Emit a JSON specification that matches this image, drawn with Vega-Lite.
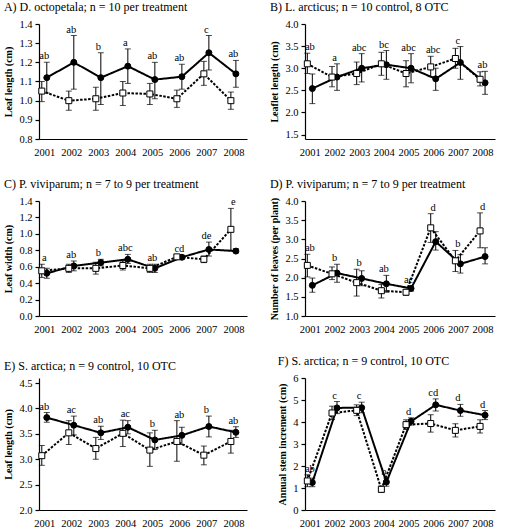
{
  "$schema": "https://vega.github.io/schema/vega-lite/v6.json",
  "padding": {"left": 3, "top": 1, "right": 3, "bottom": 0},
  "background": "white",
  "data": {"values": [
    {"p":"A","year":"2001","trt":"Control","m":1.12,"lo":1.04,"hi":1.20,"lab":"ab"},
    {"p":"A","year":"2002","trt":"Control","m":1.20,"lo":1.06,"hi":1.34,"lab":"ab"},
    {"p":"A","year":"2003","trt":"Control","m":1.12,"lo":0.98,"hi":1.25,"lab":"b"},
    {"p":"A","year":"2004","trt":"Control","m":1.18,"lo":1.09,"hi":1.27,"lab":"a"},
    {"p":"A","year":"2005","trt":"Control","m":1.11,"lo":1.01,"hi":1.20,"lab":"ab"},
    {"p":"A","year":"2006","trt":"Control","m":1.125,"lo":1.06,"hi":1.19,"lab":"ab"},
    {"p":"A","year":"2007","trt":"Control","m":1.25,"lo":1.16,"hi":1.34,"lab":"c"},
    {"p":"A","year":"2008","trt":"Control","m":1.14,"lo":1.07,"hi":1.21,"lab":"ab"},
    {"p":"A","year":"2001","trt":"OTC","m":1.05,"lo":0.995,"hi":1.10,"lab":""},
    {"p":"A","year":"2002","trt":"OTC","m":1.00,"lo":0.95,"hi":1.05,"lab":""},
    {"p":"A","year":"2003","trt":"OTC","m":1.01,"lo":0.95,"hi":1.07,"lab":""},
    {"p":"A","year":"2004","trt":"OTC","m":1.04,"lo":0.975,"hi":1.10,"lab":""},
    {"p":"A","year":"2005","trt":"OTC","m":1.035,"lo":0.98,"hi":1.09,"lab":""},
    {"p":"A","year":"2006","trt":"OTC","m":1.01,"lo":0.965,"hi":1.055,"lab":""},
    {"p":"A","year":"2007","trt":"OTC","m":1.14,"lo":1.08,"hi":1.205,"lab":""},
    {"p":"A","year":"2008","trt":"OTC","m":1.00,"lo":0.955,"hi":1.045,"lab":""},

    {"p":"B","year":"2001","trt":"Control","m":2.54,"lo":2.20,"hi":2.87,"lab":"ab"},
    {"p":"B","year":"2002","trt":"Control","m":2.80,"lo":2.50,"hi":3.10,"lab":"a"},
    {"p":"B","year":"2003","trt":"Control","m":3.00,"lo":2.69,"hi":3.33,"lab":"abc"},
    {"p":"B","year":"2004","trt":"Control","m":3.08,"lo":2.75,"hi":3.40,"lab":"bc"},
    {"p":"B","year":"2005","trt":"Control","m":3.00,"lo":2.67,"hi":3.33,"lab":"abc"},
    {"p":"B","year":"2006","trt":"Control","m":2.76,"lo":2.50,"hi":3.00,"lab":"abc"},
    {"p":"B","year":"2007","trt":"Control","m":3.13,"lo":2.75,"hi":3.49,"lab":"c"},
    {"p":"B","year":"2008","trt":"Control","m":2.67,"lo":2.41,"hi":2.93,"lab":"ab"},
    {"p":"B","year":"2001","trt":"OTC","m":3.10,"lo":2.88,"hi":3.34,"lab":""},
    {"p":"B","year":"2002","trt":"OTC","m":2.80,"lo":2.58,"hi":3.04,"lab":""},
    {"p":"B","year":"2003","trt":"OTC","m":2.88,"lo":2.63,"hi":3.14,"lab":""},
    {"p":"B","year":"2004","trt":"OTC","m":3.10,"lo":2.84,"hi":3.36,"lab":""},
    {"p":"B","year":"2005","trt":"OTC","m":2.88,"lo":2.58,"hi":3.17,"lab":""},
    {"p":"B","year":"2006","trt":"OTC","m":3.03,"lo":2.81,"hi":3.27,"lab":""},
    {"p":"B","year":"2007","trt":"OTC","m":3.22,"lo":3.00,"hi":3.45,"lab":""},
    {"p":"B","year":"2008","trt":"OTC","m":2.75,"lo":2.60,"hi":2.92,"lab":""},

    {"p":"C","year":"2001","trt":"Control","m":0.52,"lo":0.46,"hi":0.58,"lab":"a"},
    {"p":"C","year":"2002","trt":"Control","m":0.61,"lo":0.55,"hi":0.67,"lab":"ab"},
    {"p":"C","year":"2003","trt":"Control","m":0.65,"lo":0.61,"hi":0.69,"lab":"b"},
    {"p":"C","year":"2004","trt":"Control","m":0.69,"lo":0.64,"hi":0.75,"lab":"abc"},
    {"p":"C","year":"2005","trt":"Control","m":0.58,"lo":0.53,"hi":0.63,"lab":"ab"},
    {"p":"C","year":"2006","trt":"Control","m":0.715,"lo":0.69,"hi":0.74,"lab":"cd"},
    {"p":"C","year":"2007","trt":"Control","m":0.81,"lo":0.73,"hi":0.90,"lab":"de"},
    {"p":"C","year":"2008","trt":"Control","m":0.79,"lo":0.77,"hi":0.82,"lab":"e"},
    {"p":"C","year":"2001","trt":"OTC","m":0.55,"lo":0.47,"hi":0.63,"lab":""},
    {"p":"C","year":"2002","trt":"OTC","m":0.58,"lo":0.53,"hi":0.63,"lab":""},
    {"p":"C","year":"2003","trt":"OTC","m":0.58,"lo":0.51,"hi":0.655,"lab":""},
    {"p":"C","year":"2004","trt":"OTC","m":0.615,"lo":0.56,"hi":0.67,"lab":""},
    {"p":"C","year":"2005","trt":"OTC","m":0.58,"lo":0.53,"hi":0.63,"lab":""},
    {"p":"C","year":"2006","trt":"OTC","m":0.72,"lo":0.695,"hi":0.745,"lab":""},
    {"p":"C","year":"2007","trt":"OTC","m":0.69,"lo":0.65,"hi":0.73,"lab":""},
    {"p":"C","year":"2008","trt":"OTC","m":1.055,"lo":0.80,"hi":1.31,"lab":""},

    {"p":"D","year":"2001","trt":"Control","m":1.80,"lo":1.62,"hi":1.99,"lab":"ab"},
    {"p":"D","year":"2002","trt":"Control","m":2.12,"lo":1.88,"hi":2.35,"lab":"b"},
    {"p":"D","year":"2003","trt":"Control","m":1.98,"lo":1.79,"hi":2.18,"lab":"b"},
    {"p":"D","year":"2004","trt":"Control","m":1.84,"lo":1.62,"hi":2.06,"lab":"ab"},
    {"p":"D","year":"2005","trt":"Control","m":1.72,"lo":1.65,"hi":1.78,"lab":"ac"},
    {"p":"D","year":"2006","trt":"Control","m":2.94,"lo":2.72,"hi":3.20,"lab":"d"},
    {"p":"D","year":"2007","trt":"Control","m":2.36,"lo":2.12,"hi":2.60,"lab":"b"},
    {"p":"D","year":"2008","trt":"Control","m":2.55,"lo":2.36,"hi":2.78,"lab":"d"},
    {"p":"D","year":"2001","trt":"OTC","m":2.32,"lo":2.02,"hi":2.61,"lab":""},
    {"p":"D","year":"2002","trt":"OTC","m":2.10,"lo":1.95,"hi":2.28,"lab":""},
    {"p":"D","year":"2003","trt":"OTC","m":1.87,"lo":1.52,"hi":2.22,"lab":""},
    {"p":"D","year":"2004","trt":"OTC","m":1.66,"lo":1.47,"hi":1.82,"lab":""},
    {"p":"D","year":"2005","trt":"OTC","m":1.62,"lo":1.54,"hi":1.69,"lab":""},
    {"p":"D","year":"2006","trt":"OTC","m":3.30,"lo":2.92,"hi":3.67,"lab":""},
    {"p":"D","year":"2007","trt":"OTC","m":2.44,"lo":2.16,"hi":2.71,"lab":""},
    {"p":"D","year":"2008","trt":"OTC","m":3.22,"lo":2.78,"hi":3.69,"lab":""},

    {"p":"E","year":"2001","trt":"Control","m":3.82,"lo":3.73,"hi":3.92,"lab":"ab"},
    {"p":"E","year":"2002","trt":"Control","m":3.67,"lo":3.48,"hi":3.85,"lab":"ac"},
    {"p":"E","year":"2003","trt":"Control","m":3.52,"lo":3.39,"hi":3.65,"lab":"ab"},
    {"p":"E","year":"2004","trt":"Control","m":3.63,"lo":3.50,"hi":3.76,"lab":"ac"},
    {"p":"E","year":"2005","trt":"Control","m":3.38,"lo":3.19,"hi":3.57,"lab":"b"},
    {"p":"E","year":"2006","trt":"Control","m":3.47,"lo":3.29,"hi":3.63,"lab":"ab"},
    {"p":"E","year":"2007","trt":"Control","m":3.645,"lo":3.44,"hi":3.85,"lab":"b"},
    {"p":"E","year":"2008","trt":"Control","m":3.53,"lo":3.43,"hi":3.64,"lab":"ab"},
    {"p":"E","year":"2001","trt":"OTC","m":3.07,"lo":2.88,"hi":3.27,"lab":""},
    {"p":"E","year":"2002","trt":"OTC","m":3.52,"lo":3.29,"hi":3.76,"lab":""},
    {"p":"E","year":"2003","trt":"OTC","m":3.21,"lo":3.00,"hi":3.43,"lab":""},
    {"p":"E","year":"2004","trt":"OTC","m":3.51,"lo":3.25,"hi":3.77,"lab":""},
    {"p":"E","year":"2005","trt":"OTC","m":3.18,"lo":2.86,"hi":3.52,"lab":""},
    {"p":"E","year":"2006","trt":"OTC","m":3.35,"lo":2.96,"hi":3.76,"lab":""},
    {"p":"E","year":"2007","trt":"OTC","m":3.08,"lo":2.89,"hi":3.26,"lab":""},
    {"p":"E","year":"2008","trt":"OTC","m":3.35,"lo":3.12,"hi":3.57,"lab":""},

    {"p":"F","year":"2001","trt":"Control","m":1.25,"lo":1.06,"hi":1.45,"lab":"ab"},
    {"p":"F","year":"2002","trt":"Control","m":4.64,"lo":4.38,"hi":4.93,"lab":"c"},
    {"p":"F","year":"2003","trt":"Control","m":4.65,"lo":4.42,"hi":4.90,"lab":"c"},
    {"p":"F","year":"2004","trt":"Control","m":1.27,"lo":1.08,"hi":1.45,"lab":"b"},
    {"p":"F","year":"2005","trt":"Control","m":4.03,"lo":3.86,"hi":4.19,"lab":"d"},
    {"p":"F","year":"2006","trt":"Control","m":4.78,"lo":4.50,"hi":5.05,"lab":"cd"},
    {"p":"F","year":"2007","trt":"Control","m":4.52,"lo":4.26,"hi":4.80,"lab":"d"},
    {"p":"F","year":"2008","trt":"Control","m":4.31,"lo":4.11,"hi":4.52,"lab":"d"},
    {"p":"F","year":"2001","trt":"OTC","m":1.32,"lo":1.06,"hi":1.60,"lab":""},
    {"p":"F","year":"2002","trt":"OTC","m":4.41,"lo":4.11,"hi":4.72,"lab":""},
    {"p":"F","year":"2003","trt":"OTC","m":4.53,"lo":4.29,"hi":4.78,"lab":""},
    {"p":"F","year":"2004","trt":"OTC","m":0.94,"lo":0.80,"hi":1.09,"lab":""},
    {"p":"F","year":"2005","trt":"OTC","m":3.88,"lo":3.66,"hi":4.10,"lab":""},
    {"p":"F","year":"2006","trt":"OTC","m":3.93,"lo":3.54,"hi":4.33,"lab":""},
    {"p":"F","year":"2007","trt":"OTC","m":3.62,"lo":3.32,"hi":3.92,"lab":""},
    {"p":"F","year":"2008","trt":"OTC","m":3.80,"lo":3.50,"hi":4.10,"lab":""}
  ]},
  "columns": 2,
  "spacing": {"row": 20, "column": 22},
  "concat": [
    {
      "title": "A)  D. octopetala; n = 10 per treatment",
      "width": 208, "height": 115,
      "transform": [{"filter": "datum.p == 'A'"}],
      "encoding": {"x": {"field": "year", "type": "ordinal", "scale": {"type": "point", "padding": 0.35, "align": 0.28}, "axis": {"title": null}}},
      "layer": [
        {"mark": {"type": "rule", "color": "black", "strokeWidth": 1}, "encoding": {"xOffset": {"field": "trt", "type": "nominal", "scale": {"type": "point", "domain": ["OTC", "Control"], "range": [-2.5, 2.5], "padding": 0}}, "y": {"field": "lo", "type": "quantitative", "title": "Leaf length (cm)", "scale": {"domain": [0.8, 1.4]}, "axis": {"values": [0.8, 0.9, 1.0, 1.1, 1.2, 1.3, 1.4], "format": ".1f"}}, "y2": {"field": "hi"}}},
        {"mark": {"type": "tick", "color": "black", "thickness": 1, "size": 6}, "encoding": {"xOffset": {"field": "trt", "type": "nominal", "scale": {"type": "point", "domain": ["OTC", "Control"], "range": [-2.5, 2.5], "padding": 0}}, "y": {"field": "hi", "type": "quantitative", "title": "Leaf length (cm)", "axis": {"values": [0.8, 0.9, 1.0, 1.1, 1.2, 1.3, 1.4], "format": ".1f"}}}},
        {"mark": {"type": "tick", "color": "black", "thickness": 1, "size": 6}, "encoding": {"xOffset": {"field": "trt", "type": "nominal", "scale": {"type": "point", "domain": ["OTC", "Control"], "range": [-2.5, 2.5], "padding": 0}}, "y": {"field": "lo", "type": "quantitative", "title": "Leaf length (cm)", "axis": {"values": [0.8, 0.9, 1.0, 1.1, 1.2, 1.3, 1.4], "format": ".1f"}}}},
        {"mark": {"type": "line", "color": "black", "strokeWidth": 2}, "encoding": {"xOffset": {"field": "trt", "type": "nominal", "scale": {"type": "point", "domain": ["OTC", "Control"], "range": [-2.5, 2.5], "padding": 0}}, "y": {"field": "m", "type": "quantitative", "title": "Leaf length (cm)", "axis": {"values": [0.8, 0.9, 1.0, 1.1, 1.2, 1.3, 1.4], "format": ".1f"}}, "strokeDash": {"field": "trt", "type": "nominal", "scale": {"domain": ["Control", "OTC"], "range": [[1, 0], [2.5, 1.5]]}, "legend": null}}},
        {"mark": {"type": "point", "filled": true, "stroke": "black", "strokeWidth": 1, "size": 36, "opacity": 1}, "encoding": {"xOffset": {"field": "trt", "type": "nominal", "scale": {"type": "point", "domain": ["OTC", "Control"], "range": [-2.5, 2.5], "padding": 0}}, "y": {"field": "m", "type": "quantitative", "title": "Leaf length (cm)", "axis": {"values": [0.8, 0.9, 1.0, 1.1, 1.2, 1.3, 1.4], "format": ".1f"}}, "shape": {"field": "trt", "type": "nominal", "scale": {"domain": ["Control", "OTC"], "range": ["circle", "square"]}, "legend": null}, "fill": {"field": "trt", "type": "nominal", "scale": {"domain": ["Control", "OTC"], "range": ["black", "white"]}, "legend": null}}},
        {"transform": [{"joinaggregate": [{"op": "max", "field": "hi", "as": "top"}], "groupby": ["year"]}, {"filter": "datum.lab != ''"}], "mark": {"type": "text", "baseline": "bottom", "dy": -1, "font": "Liberation Serif", "fontSize": 10.5, "fill": "black"}, "encoding": {"y": {"field": "top", "type": "quantitative", "title": "Leaf length (cm)", "axis": {"values": [0.8, 0.9, 1.0, 1.1, 1.2, 1.3, 1.4], "format": ".1f"}}, "text": {"field": "lab"}}}
      ]
    },
    {
      "title": "B)  L. arcticus; n = 10 control, 8 OTC",
      "width": 190, "height": 115,
      "transform": [{"filter": "datum.p == 'B'"}],
      "encoding": {"x": {"field": "year", "type": "ordinal", "scale": {"type": "point", "padding": 0.35, "align": 0.28}, "axis": {"title": null}}},
      "layer": [
        {"mark": {"type": "rule", "color": "black", "strokeWidth": 1}, "encoding": {"xOffset": {"field": "trt", "type": "nominal", "scale": {"type": "point", "domain": ["OTC", "Control"], "range": [-2.5, 2.5], "padding": 0}}, "y": {"field": "lo", "type": "quantitative", "title": "Leaflet length (cm)", "scale": {"domain": [1.5, 4.0]}, "axis": {"values": [1.5, 2.0, 2.5, 3.0, 3.5, 4.0], "format": ".1f"}}, "y2": {"field": "hi"}}},
        {"mark": {"type": "tick", "color": "black", "thickness": 1, "size": 6}, "encoding": {"xOffset": {"field": "trt", "type": "nominal", "scale": {"type": "point", "domain": ["OTC", "Control"], "range": [-2.5, 2.5], "padding": 0}}, "y": {"field": "hi", "type": "quantitative", "title": "Leaflet length (cm)", "axis": {"values": [1.5, 2.0, 2.5, 3.0, 3.5, 4.0], "format": ".1f"}}}},
        {"mark": {"type": "tick", "color": "black", "thickness": 1, "size": 6}, "encoding": {"xOffset": {"field": "trt", "type": "nominal", "scale": {"type": "point", "domain": ["OTC", "Control"], "range": [-2.5, 2.5], "padding": 0}}, "y": {"field": "lo", "type": "quantitative", "title": "Leaflet length (cm)", "axis": {"values": [1.5, 2.0, 2.5, 3.0, 3.5, 4.0], "format": ".1f"}}}},
        {"mark": {"type": "line", "color": "black", "strokeWidth": 2}, "encoding": {"xOffset": {"field": "trt", "type": "nominal", "scale": {"type": "point", "domain": ["OTC", "Control"], "range": [-2.5, 2.5], "padding": 0}}, "y": {"field": "m", "type": "quantitative", "title": "Leaflet length (cm)", "axis": {"values": [1.5, 2.0, 2.5, 3.0, 3.5, 4.0], "format": ".1f"}}, "strokeDash": {"field": "trt", "type": "nominal", "scale": {"domain": ["Control", "OTC"], "range": [[1, 0], [2.5, 1.5]]}, "legend": null}}},
        {"mark": {"type": "point", "filled": true, "stroke": "black", "strokeWidth": 1, "size": 36, "opacity": 1}, "encoding": {"xOffset": {"field": "trt", "type": "nominal", "scale": {"type": "point", "domain": ["OTC", "Control"], "range": [-2.5, 2.5], "padding": 0}}, "y": {"field": "m", "type": "quantitative", "title": "Leaflet length (cm)", "axis": {"values": [1.5, 2.0, 2.5, 3.0, 3.5, 4.0], "format": ".1f"}}, "shape": {"field": "trt", "type": "nominal", "scale": {"domain": ["Control", "OTC"], "range": ["circle", "square"]}, "legend": null}, "fill": {"field": "trt", "type": "nominal", "scale": {"domain": ["Control", "OTC"], "range": ["black", "white"]}, "legend": null}}},
        {"transform": [{"joinaggregate": [{"op": "max", "field": "hi", "as": "top"}], "groupby": ["year"]}, {"filter": "datum.lab != ''"}], "mark": {"type": "text", "baseline": "bottom", "dy": -1, "font": "Liberation Serif", "fontSize": 10.5, "fill": "black"}, "encoding": {"y": {"field": "top", "type": "quantitative", "title": "Leaflet length (cm)", "axis": {"values": [1.5, 2.0, 2.5, 3.0, 3.5, 4.0], "format": ".1f"}}, "text": {"field": "lab"}}}
      ]
    },
    {
      "title": "C)  P. viviparum; n = 7 to 9 per treatment",
      "width": 208, "height": 115,
      "transform": [{"filter": "datum.p == 'C'"}],
      "encoding": {"x": {"field": "year", "type": "ordinal", "scale": {"type": "point", "padding": 0.35, "align": 0.28}, "axis": {"title": null}}},
      "layer": [
        {"mark": {"type": "rule", "color": "black", "strokeWidth": 1}, "encoding": {"xOffset": {"field": "trt", "type": "nominal", "scale": {"type": "point", "domain": ["OTC", "Control"], "range": [-2.5, 2.5], "padding": 0}}, "y": {"field": "lo", "type": "quantitative", "title": "Leaf width (cm)", "scale": {"domain": [0, 1.4]}, "axis": {"values": [0, 0.2, 0.4, 0.6, 0.8, 1.0, 1.2, 1.4], "format": ".1f"}}, "y2": {"field": "hi"}}},
        {"mark": {"type": "tick", "color": "black", "thickness": 1, "size": 6}, "encoding": {"xOffset": {"field": "trt", "type": "nominal", "scale": {"type": "point", "domain": ["OTC", "Control"], "range": [-2.5, 2.5], "padding": 0}}, "y": {"field": "hi", "type": "quantitative", "title": "Leaf width (cm)", "axis": {"values": [0, 0.2, 0.4, 0.6, 0.8, 1.0, 1.2, 1.4], "format": ".1f"}}}},
        {"mark": {"type": "tick", "color": "black", "thickness": 1, "size": 6}, "encoding": {"xOffset": {"field": "trt", "type": "nominal", "scale": {"type": "point", "domain": ["OTC", "Control"], "range": [-2.5, 2.5], "padding": 0}}, "y": {"field": "lo", "type": "quantitative", "title": "Leaf width (cm)", "axis": {"values": [0, 0.2, 0.4, 0.6, 0.8, 1.0, 1.2, 1.4], "format": ".1f"}}}},
        {"mark": {"type": "line", "color": "black", "strokeWidth": 2}, "encoding": {"xOffset": {"field": "trt", "type": "nominal", "scale": {"type": "point", "domain": ["OTC", "Control"], "range": [-2.5, 2.5], "padding": 0}}, "y": {"field": "m", "type": "quantitative", "title": "Leaf width (cm)", "axis": {"values": [0, 0.2, 0.4, 0.6, 0.8, 1.0, 1.2, 1.4], "format": ".1f"}}, "strokeDash": {"field": "trt", "type": "nominal", "scale": {"domain": ["Control", "OTC"], "range": [[1, 0], [2.5, 1.5]]}, "legend": null}}},
        {"mark": {"type": "point", "filled": true, "stroke": "black", "strokeWidth": 1, "size": 36, "opacity": 1}, "encoding": {"xOffset": {"field": "trt", "type": "nominal", "scale": {"type": "point", "domain": ["OTC", "Control"], "range": [-2.5, 2.5], "padding": 0}}, "y": {"field": "m", "type": "quantitative", "title": "Leaf width (cm)", "axis": {"values": [0, 0.2, 0.4, 0.6, 0.8, 1.0, 1.2, 1.4], "format": ".1f"}}, "shape": {"field": "trt", "type": "nominal", "scale": {"domain": ["Control", "OTC"], "range": ["circle", "square"]}, "legend": null}, "fill": {"field": "trt", "type": "nominal", "scale": {"domain": ["Control", "OTC"], "range": ["black", "white"]}, "legend": null}}},
        {"transform": [{"joinaggregate": [{"op": "max", "field": "hi", "as": "top"}], "groupby": ["year"]}, {"filter": "datum.lab != ''"}], "mark": {"type": "text", "baseline": "bottom", "dy": -1, "font": "Liberation Serif", "fontSize": 10.5, "fill": "black"}, "encoding": {"y": {"field": "top", "type": "quantitative", "title": "Leaf width (cm)", "axis": {"values": [0, 0.2, 0.4, 0.6, 0.8, 1.0, 1.2, 1.4], "format": ".1f"}}, "text": {"field": "lab"}}}
      ]
    },
    {
      "title": "D)  P. viviparum; n = 7 to 9 per treatment",
      "width": 190, "height": 115,
      "transform": [{"filter": "datum.p == 'D'"}],
      "encoding": {"x": {"field": "year", "type": "ordinal", "scale": {"type": "point", "padding": 0.35, "align": 0.28}, "axis": {"title": null}}},
      "layer": [
        {"mark": {"type": "rule", "color": "black", "strokeWidth": 1}, "encoding": {"xOffset": {"field": "trt", "type": "nominal", "scale": {"type": "point", "domain": ["OTC", "Control"], "range": [-2.5, 2.5], "padding": 0}}, "y": {"field": "lo", "type": "quantitative", "title": "Number of leaves (per plant)", "scale": {"domain": [1.0, 4.0]}, "axis": {"values": [1.0, 1.5, 2.0, 2.5, 3.0, 3.5, 4.0], "format": ".1f"}}, "y2": {"field": "hi"}}},
        {"mark": {"type": "tick", "color": "black", "thickness": 1, "size": 6}, "encoding": {"xOffset": {"field": "trt", "type": "nominal", "scale": {"type": "point", "domain": ["OTC", "Control"], "range": [-2.5, 2.5], "padding": 0}}, "y": {"field": "hi", "type": "quantitative", "title": "Number of leaves (per plant)", "axis": {"values": [1.0, 1.5, 2.0, 2.5, 3.0, 3.5, 4.0], "format": ".1f"}}}},
        {"mark": {"type": "tick", "color": "black", "thickness": 1, "size": 6}, "encoding": {"xOffset": {"field": "trt", "type": "nominal", "scale": {"type": "point", "domain": ["OTC", "Control"], "range": [-2.5, 2.5], "padding": 0}}, "y": {"field": "lo", "type": "quantitative", "title": "Number of leaves (per plant)", "axis": {"values": [1.0, 1.5, 2.0, 2.5, 3.0, 3.5, 4.0], "format": ".1f"}}}},
        {"mark": {"type": "line", "color": "black", "strokeWidth": 2}, "encoding": {"xOffset": {"field": "trt", "type": "nominal", "scale": {"type": "point", "domain": ["OTC", "Control"], "range": [-2.5, 2.5], "padding": 0}}, "y": {"field": "m", "type": "quantitative", "title": "Number of leaves (per plant)", "axis": {"values": [1.0, 1.5, 2.0, 2.5, 3.0, 3.5, 4.0], "format": ".1f"}}, "strokeDash": {"field": "trt", "type": "nominal", "scale": {"domain": ["Control", "OTC"], "range": [[1, 0], [2.5, 1.5]]}, "legend": null}}},
        {"mark": {"type": "point", "filled": true, "stroke": "black", "strokeWidth": 1, "size": 36, "opacity": 1}, "encoding": {"xOffset": {"field": "trt", "type": "nominal", "scale": {"type": "point", "domain": ["OTC", "Control"], "range": [-2.5, 2.5], "padding": 0}}, "y": {"field": "m", "type": "quantitative", "title": "Number of leaves (per plant)", "axis": {"values": [1.0, 1.5, 2.0, 2.5, 3.0, 3.5, 4.0], "format": ".1f"}}, "shape": {"field": "trt", "type": "nominal", "scale": {"domain": ["Control", "OTC"], "range": ["circle", "square"]}, "legend": null}, "fill": {"field": "trt", "type": "nominal", "scale": {"domain": ["Control", "OTC"], "range": ["black", "white"]}, "legend": null}}},
        {"transform": [{"joinaggregate": [{"op": "max", "field": "hi", "as": "top"}], "groupby": ["year"]}, {"filter": "datum.lab != ''"}], "mark": {"type": "text", "baseline": "bottom", "dy": -1, "font": "Liberation Serif", "fontSize": 10.5, "fill": "black"}, "encoding": {"y": {"field": "top", "type": "quantitative", "title": "Number of leaves (per plant)", "axis": {"values": [1.0, 1.5, 2.0, 2.5, 3.0, 3.5, 4.0], "format": ".1f"}}, "text": {"field": "lab"}}}
      ]
    },
    {
      "title": "E)  S. arctica; n = 9 control, 10 OTC",
      "width": 208, "height": 132,
      "transform": [{"filter": "datum.p == 'E'"}],
      "encoding": {"x": {"field": "year", "type": "ordinal", "scale": {"type": "point", "padding": 0.35, "align": 0.28}, "axis": {"title": null}}},
      "layer": [
        {"mark": {"type": "rule", "color": "black", "strokeWidth": 1}, "encoding": {"xOffset": {"field": "trt", "type": "nominal", "scale": {"type": "point", "domain": ["OTC", "Control"], "range": [-2.5, 2.5], "padding": 0}}, "y": {"field": "lo", "type": "quantitative", "title": "Leaf length (cm)", "scale": {"domain": [2.0, 4.5]}, "axis": {"values": [2.0, 2.5, 3.0, 3.5, 4.0, 4.5], "format": ".1f"}}, "y2": {"field": "hi"}}},
        {"mark": {"type": "tick", "color": "black", "thickness": 1, "size": 6}, "encoding": {"xOffset": {"field": "trt", "type": "nominal", "scale": {"type": "point", "domain": ["OTC", "Control"], "range": [-2.5, 2.5], "padding": 0}}, "y": {"field": "hi", "type": "quantitative", "title": "Leaf length (cm)", "axis": {"values": [2.0, 2.5, 3.0, 3.5, 4.0, 4.5], "format": ".1f"}}}},
        {"mark": {"type": "tick", "color": "black", "thickness": 1, "size": 6}, "encoding": {"xOffset": {"field": "trt", "type": "nominal", "scale": {"type": "point", "domain": ["OTC", "Control"], "range": [-2.5, 2.5], "padding": 0}}, "y": {"field": "lo", "type": "quantitative", "title": "Leaf length (cm)", "axis": {"values": [2.0, 2.5, 3.0, 3.5, 4.0, 4.5], "format": ".1f"}}}},
        {"mark": {"type": "line", "color": "black", "strokeWidth": 2}, "encoding": {"xOffset": {"field": "trt", "type": "nominal", "scale": {"type": "point", "domain": ["OTC", "Control"], "range": [-2.5, 2.5], "padding": 0}}, "y": {"field": "m", "type": "quantitative", "title": "Leaf length (cm)", "axis": {"values": [2.0, 2.5, 3.0, 3.5, 4.0, 4.5], "format": ".1f"}}, "strokeDash": {"field": "trt", "type": "nominal", "scale": {"domain": ["Control", "OTC"], "range": [[1, 0], [2.5, 1.5]]}, "legend": null}}},
        {"mark": {"type": "point", "filled": true, "stroke": "black", "strokeWidth": 1, "size": 36, "opacity": 1}, "encoding": {"xOffset": {"field": "trt", "type": "nominal", "scale": {"type": "point", "domain": ["OTC", "Control"], "range": [-2.5, 2.5], "padding": 0}}, "y": {"field": "m", "type": "quantitative", "title": "Leaf length (cm)", "axis": {"values": [2.0, 2.5, 3.0, 3.5, 4.0, 4.5], "format": ".1f"}}, "shape": {"field": "trt", "type": "nominal", "scale": {"domain": ["Control", "OTC"], "range": ["circle", "square"]}, "legend": null}, "fill": {"field": "trt", "type": "nominal", "scale": {"domain": ["Control", "OTC"], "range": ["black", "white"]}, "legend": null}}},
        {"transform": [{"joinaggregate": [{"op": "max", "field": "hi", "as": "top"}], "groupby": ["year"]}, {"filter": "datum.lab != ''"}], "mark": {"type": "text", "baseline": "bottom", "dy": -1, "font": "Liberation Serif", "fontSize": 10.5, "fill": "black"}, "encoding": {"y": {"field": "top", "type": "quantitative", "title": "Leaf length (cm)", "axis": {"values": [2.0, 2.5, 3.0, 3.5, 4.0, 4.5], "format": ".1f"}}, "text": {"field": "lab"}}}
      ]
    },
    {
      "title": "F)  S. arctica; n = 9 control, 10 OTC",
      "width": 190, "height": 132,
      "transform": [{"filter": "datum.p == 'F'"}],
      "encoding": {"x": {"field": "year", "type": "ordinal", "scale": {"type": "point", "padding": 0.35, "align": 0.28}, "axis": {"title": null}}},
      "layer": [
        {"mark": {"type": "rule", "color": "black", "strokeWidth": 1}, "encoding": {"xOffset": {"field": "trt", "type": "nominal", "scale": {"type": "point", "domain": ["OTC", "Control"], "range": [-2.5, 2.5], "padding": 0}}, "y": {"field": "lo", "type": "quantitative", "title": "Annual stem increment (cm)", "scale": {"domain": [0, 6]}, "axis": {"values": [0, 1, 2, 3, 4, 5, 6], "format": "d"}}, "y2": {"field": "hi"}}},
        {"mark": {"type": "tick", "color": "black", "thickness": 1, "size": 6}, "encoding": {"xOffset": {"field": "trt", "type": "nominal", "scale": {"type": "point", "domain": ["OTC", "Control"], "range": [-2.5, 2.5], "padding": 0}}, "y": {"field": "hi", "type": "quantitative", "title": "Annual stem increment (cm)", "axis": {"values": [0, 1, 2, 3, 4, 5, 6], "format": "d"}}}},
        {"mark": {"type": "tick", "color": "black", "thickness": 1, "size": 6}, "encoding": {"xOffset": {"field": "trt", "type": "nominal", "scale": {"type": "point", "domain": ["OTC", "Control"], "range": [-2.5, 2.5], "padding": 0}}, "y": {"field": "lo", "type": "quantitative", "title": "Annual stem increment (cm)", "axis": {"values": [0, 1, 2, 3, 4, 5, 6], "format": "d"}}}},
        {"mark": {"type": "line", "color": "black", "strokeWidth": 2}, "encoding": {"xOffset": {"field": "trt", "type": "nominal", "scale": {"type": "point", "domain": ["OTC", "Control"], "range": [-2.5, 2.5], "padding": 0}}, "y": {"field": "m", "type": "quantitative", "title": "Annual stem increment (cm)", "axis": {"values": [0, 1, 2, 3, 4, 5, 6], "format": "d"}}, "strokeDash": {"field": "trt", "type": "nominal", "scale": {"domain": ["Control", "OTC"], "range": [[1, 0], [2.5, 1.5]]}, "legend": null}}},
        {"mark": {"type": "point", "filled": true, "stroke": "black", "strokeWidth": 1, "size": 36, "opacity": 1}, "encoding": {"xOffset": {"field": "trt", "type": "nominal", "scale": {"type": "point", "domain": ["OTC", "Control"], "range": [-2.5, 2.5], "padding": 0}}, "y": {"field": "m", "type": "quantitative", "title": "Annual stem increment (cm)", "axis": {"values": [0, 1, 2, 3, 4, 5, 6], "format": "d"}}, "shape": {"field": "trt", "type": "nominal", "scale": {"domain": ["Control", "OTC"], "range": ["circle", "square"]}, "legend": null}, "fill": {"field": "trt", "type": "nominal", "scale": {"domain": ["Control", "OTC"], "range": ["black", "white"]}, "legend": null}}},
        {"transform": [{"joinaggregate": [{"op": "max", "field": "hi", "as": "top"}], "groupby": ["year"]}, {"filter": "datum.lab != ''"}], "mark": {"type": "text", "baseline": "bottom", "dy": -1, "font": "Liberation Serif", "fontSize": 10.5, "fill": "black"}, "encoding": {"y": {"field": "top", "type": "quantitative", "title": "Annual stem increment (cm)", "axis": {"values": [0, 1, 2, 3, 4, 5, 6], "format": "d"}}, "text": {"field": "lab"}}}
      ]
    }
  ],
  "config": {
    "view": {"stroke": null},
    "font": "Liberation Serif",
    "title": {"font": "Liberation Serif", "fontSize": 12, "fontWeight": "normal", "anchor": "start", "frame": "bounds", "offset": 5, "color": "black"},
    "axis": {"domainColor": "black", "tickColor": "black", "labelColor": "black", "titleColor": "black", "labelFont": "Liberation Serif", "titleFont": "Liberation Serif", "grid": false, "domainWidth": 1.2, "tickWidth": 1.2},
    "axisX": {"ticks": false, "labelPadding": 8, "labelAngle": 0, "labelFontSize": 10.5},
    "axisY": {"tickSize": 4, "labelFontSize": 10.5, "titleFontSize": 10, "titleFontWeight": "bold", "labelPadding": 3, "titlePadding": 5}
  }
}
